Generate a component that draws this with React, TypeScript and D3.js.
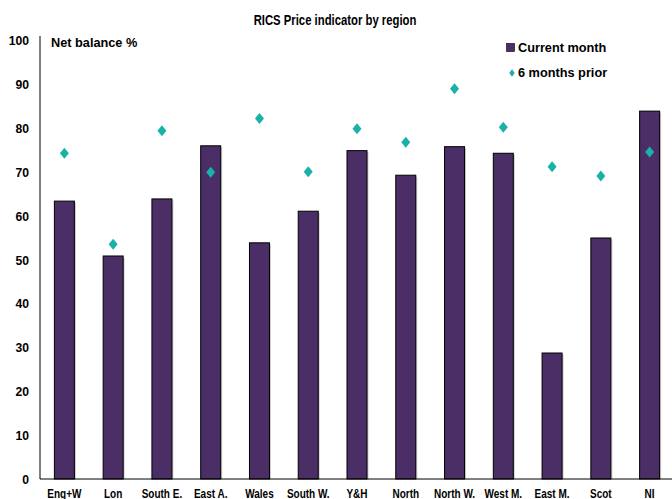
import React from "react";
import * as d3 from "d3";

const categories = ["Eng+W", "Lon", "South E.", "East A.", "Wales", "South W.", "Y&H", "North", "North W.", "West M.", "East M.", "Scot", "NI"];
const currentMonth = [63.3, 50.8, 63.8, 75.9, 53.8, 61.0, 74.8, 69.2, 75.7, 74.2, 28.7, 54.9, 83.8];
const sixMonthsPrior = [74.2, 53.5, 79.3, 69.9, 82.1, 70.0, 79.8, 76.7, 88.9, 80.1, 71.1, 69.0, 74.5];
const yTicks = [0, 10, 20, 30, 40, 50, 60, 70, 80, 90, 100];

const W = 672, H = 499;
const left = 40, right = 674, top = 40, bottom = 479;
const FONT = "'Liberation Sans', Arial, sans-serif";
const BAR = "#4B2E66";
const DIAMOND = "#19B2A8";

function T({ x, y, sx = 1, size, anchor = "start", children }: any) {
  return (
    <text transform={`translate(${x},${y}) scale(${sx},1)`} textAnchor={anchor} fontSize={size}>
      {children}
    </text>
  );
}

function diamondPath(w: number, h: number) {
  const p = d3.path();
  p.moveTo(0, -h / 2);
  p.lineTo(w / 2, 0);
  p.lineTo(0, h / 2);
  p.lineTo(-w / 2, 0);
  p.closePath();
  return p.toString();
}

export default function App() {
  const x = d3.scaleBand<string>().domain(categories).range([left, right]).paddingInner(0).paddingOuter(0);
  const y = d3.scaleLinear().domain([0, 100]).range([bottom, top]);
  const bw = 20;
  const dia = diamondPath(9, 11);
  const diaSmall = diamondPath(5.5, 7.5);
  return (
    <svg width={W} height={H} style={{ position: "absolute", left: 0, top: 0 }} fontFamily={FONT} fontWeight="bold">
      <rect width={W} height={H} fill="#fff" />
      <T x={335} y={25} sx={0.78} size={14.5} anchor="middle">RICS Price indicator by region</T>
      <T x={51} y={47} sx={0.98} size={13}>Net balance %</T>
      {yTicks.map((t) => (
        <T key={t} x={29} y={y(t) + 5} sx={0.9} size={13.5} anchor="end">{t}</T>
      ))}
      {categories.map((c, i) => {
        const cx = x(c)! + x.bandwidth() / 2;
        return (
          <g key={c}>
            <rect x={cx - bw / 2 + 1.5} y={y(currentMonth[i]) + 1.5} width={bw} height={bottom - y(currentMonth[i]) - 1.5} fill="#999" opacity={0.5} />
            <rect x={cx - bw / 2} y={y(currentMonth[i])} width={bw} height={bottom - y(currentMonth[i])} fill={BAR} stroke="#000" strokeWidth={1} />
            <path d={dia} transform={`translate(${cx},${y(sixMonthsPrior[i])})`} fill={DIAMOND} />
            <T x={cx} y={498} sx={0.8} size={12.5} anchor="middle">{c}</T>
          </g>
        );
      })}
      <line x1={left} x2={left} y1={top - 4} y2={bottom} stroke="#000" strokeWidth={1} />
      <line x1={left} x2={W} y1={bottom} y2={bottom} stroke="#000" strokeWidth={1} />
      <rect x={506.5} y={43.5} width={8} height={8} fill={BAR} stroke="#000" strokeWidth={0.6} />
      <T x={518} y={52} sx={0.98} size={13}>Current month</T>
      <path d={diaSmall} transform="translate(512,73)" fill={DIAMOND} />
      <T x={518} y={77} sx={0.98} size={13}>6 months prior</T>
    </svg>
  );
}
